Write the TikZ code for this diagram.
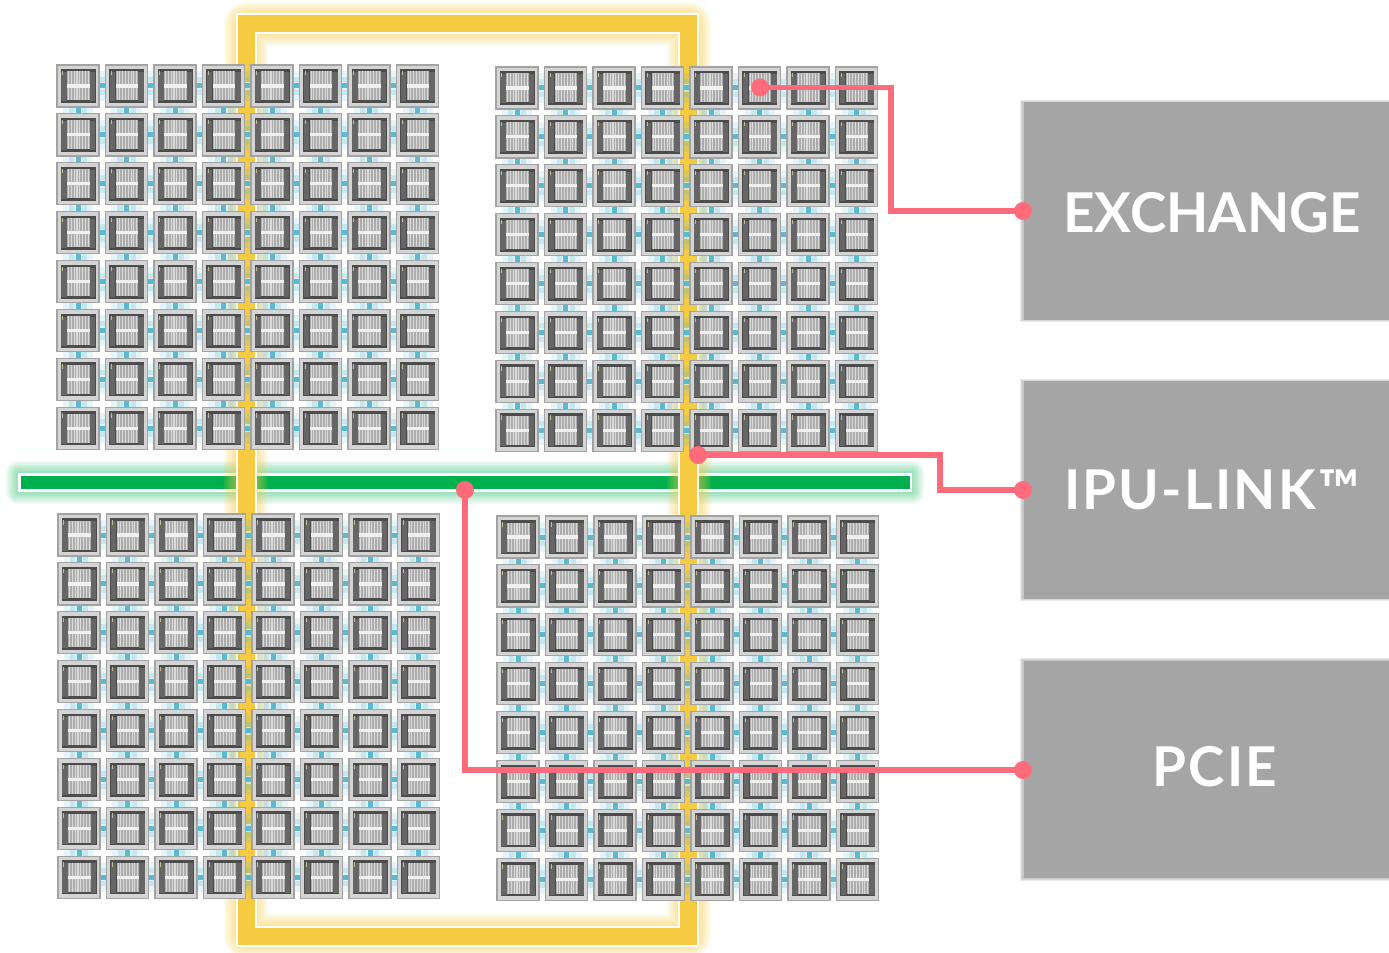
\documentclass[tikz,border=0pt]{standalone}
\usepackage{fontspec}
\setmainfont{Lato}
\usepackage{xcolor}
\usepackage{tikz}

\definecolor{ringgold}{HTML}{F6CB42}
\definecolor{barteal}{HTML}{00B04F}
\definecolor{linkpink}{HTML}{FF6B7A}
\definecolor{boxgrey}{HTML}{A5A5A5}
\definecolor{wirecyan}{HTML}{58BAD3}

\newcommand{\tileface}{%
  \fill[black!70] (-17.5,-17) rectangle (17.5,17);
  \fill[black!60] (-17,-14) rectangle (-11.5,15.5);
  \fill[black!60] (11.5,-14) rectangle (17,15.5);
  \fill[black!32] (-11,-14.5) rectangle (11.5,14.5);
  \foreach \s in {-10,-7.2,...,11}
    \fill[white!85!black] (\s,-14.5) rectangle ++(1.1,29);
  \fill[white!94!black] (-11,-1.6) rectangle (11.5,1.6);
  \fill[yellow!40!black!50] (-15.6,-15) rectangle (-14.9,-10.5);
}

\tikzset{
  tile/.style={draw=black!36, line width=1.2*0.2845pt, fill=black!17, rectangle,
    minimum size=0.42cm, inner sep=0pt,
    path picture={\begin{scope}[shift={(path picture bounding box.center)}]\tileface\end{scope}}},
  wireglow/.style={draw=wirecyan, opacity=0.16, line width=30*0.2845pt},
  wirehalo/.style={draw=wirecyan, opacity=0.22, line width=18*0.2845pt},
  wiregap/.style={draw=white, opacity=0.5, line width=8*0.2845pt},
  wire/.style={draw=wirecyan, line width=5*0.2845pt},
  linkdot/.style={circle, fill=linkpink, minimum size=0.18cm, inner sep=0pt},
  link/.style={draw=linkpink, line width=5.2*0.2845pt, line join=miter},
  panel/.style={rectangle, fill=boxgrey, text=white, minimum width=3.8cm, minimum height=2.17cm,
    inner sep=0pt, anchor=west},
  paneltext/.style={text=white, font=\fontsize{15.6pt}{18pt}\bfseries\addfontfeature{LetterSpace=4.0}},
  paneltight/.style={text=white, font=\fontsize{15.6pt}{18pt}\bfseries\addfontfeature{LetterSpace=0.2}}
}

\begin{document}
\begin{tikzpicture}[x=0.01cm, y=-0.01cm]
  \useasboundingbox (0,0) rectangle (1389,952);

  % green bar
  \foreach \w in {24,20,16,12,8,4}
    \draw[barteal, opacity=0.075, line width=\w*0.2845pt, line join=round] (18,473) rectangle (912,492);
  \coordinate (barleft) at (18,482.5);
  \coordinate (barright) at (912,482.5);
  \draw[white, line width=19*0.2845pt] (barleft) -- (barright);
  \draw[barteal, line width=13.5*0.2845pt] (21,482.5) -- (909.5,482.5);

  % gold ring
  \foreach \w in {44,40,36,32,28,24}
    \draw[ringgold, opacity=0.1, line width=\w*0.2845pt, line join=round] (246,24) rectangle (688.5,936);
  \draw[white, line width=21*0.2845pt] (246,24) rectangle (688.5,936);
  \draw[ringgold, line width=17*0.2845pt] (246,24) rectangle (688.5,936);

  % tiles
  \foreach \blk/\ox/\oy in {a/78/86, b/517/88, c/79/535, d/518/537} {
    \foreach \i in {0,...,7} {
      \foreach \j in {0,...,7} {
        \node[tile] (\blk-\i-\j) at ({\ox+48.5*\i},{\oy+48.9*\j}) {};
      }
    }
    \foreach \i in {0,...,7} {
      \foreach \j [evaluate=\j as \k using int(\j+1)] in {0,...,6} {
        \foreach \sty in {wireglow,wirehalo,wiregap,wire} {
          \draw[\sty] (\blk-\i-\j) -- (\blk-\i-\k);
          \draw[\sty] (\blk-\j-\i) -- (\blk-\k-\i);
        }
      }
    }
  }

  % panels
  \foreach \w in {3,2,1} {
    \fill[black!60, opacity=0.14] ({1023-\w},{103-\w}) rectangle (1389,{319+\w});
    \fill[black!60, opacity=0.14] ({1023-\w},{382-\w}) rectangle (1389,{598+\w});
    \fill[black!60, opacity=0.14] ({1023-\w},{661-\w}) rectangle (1389,{878+\w});
  }
  \node[panel] (exbox) at (1023,211) {};
  \node[panel] (ipubox) at (1023,490) {};
  \node[panel] (pciebox) at (1023,769.5) {};
  \node[paneltight] (extext) at (1212,213) {EXCHANGE};
  \node[paneltext] (iputext) at (1212,490) {IPU-LINK™};
  \node[paneltext] (pcietext) at (1215,767) {PCIE};

  % callouts
  \node[linkdot] (exsrc) at (760,87.5) {};
  \node[linkdot] (exdst) at (1023,211) {};
  \node[linkdot] (iposrc) at (698,455) {};
  \node[linkdot] (ipodst) at (1023,490) {};
  \node[linkdot] (pcisrc) at (465,490) {};
  \node[linkdot] (pcidst) at (1023,770) {};
  \coordinate (exbend) at (891,87.5);
  \coordinate (ipobend) at (940,455);
  \draw[link] (exsrc.center) -- (exbend) |- (exdst.center);
  \draw[link] (iposrc.center) -- (ipobend) |- (ipodst.center);
  \draw[link] (pcisrc.center) |- (pcidst.center);
\end{tikzpicture}
\end{document}
